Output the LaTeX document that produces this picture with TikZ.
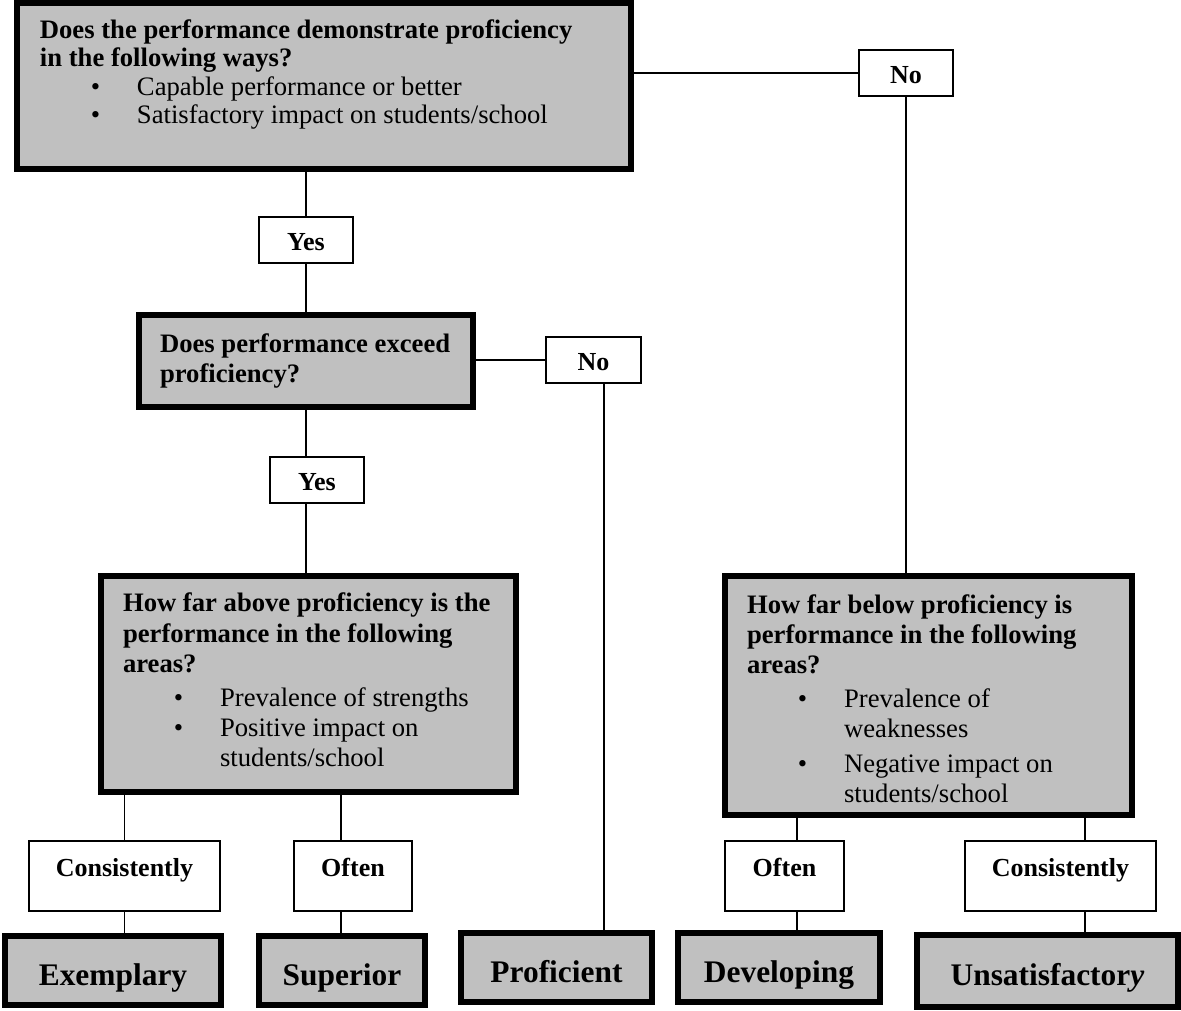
\documentclass[tikz,border=0pt]{standalone}
\usepackage{fontspec}
\setmainfont{Liberation Serif}
\definecolor{boxgray}{HTML}{C0C0C0}
% bullet line inside a question box
\newcommand{\bitem}[2][0pt]{\par\vspace{#1}\hangindent=44.8pt\hangafter=1\noindent
  \makebox[44.8pt][l]{\hspace{23.5pt}\mdseries\textbullet}{\mdseries #2}}

\begin{document}
\begin{tikzpicture}[x=0.4615pt, y=-0.4615pt,
    every node/.style={font=\fontsize{12}{13.8}\selectfont\bfseries},
    qbox/.style={draw, line width=2.77pt, fill=boxgray, inner ysep=0pt,
      font=\fontsize{12.3}{13.9}\selectfont\bfseries},
    tag/.style={draw, line width=0.92pt, fill=white, inner sep=0pt,
      minimum width=43.4pt, minimum height=21.2pt, text height=10pt, text depth=0pt},
    freq/.style={tag, minimum height=32.3pt, text height=6pt, text depth=6pt},
    result/.style={draw, line width=2.77pt, fill=boxgray, inner sep=0pt,
      minimum height=31.8pt, text height=13.4pt, text depth=0pt,
      font=\fontsize{14.5}{16}\selectfont\bfseries},
    link/.style={line width=0.92pt}]
  \useasboundingbox (0,0) rectangle (1181,1010);

  % questions
  \node[qbox, inner xsep=10.6pt] (qA) at (324,86)
    {\parbox[c][76.6pt][t]{262.2pt}{\baselineskip=13.2pt
      \rule{0pt}{16.2pt}Does the performance demonstrate proficiency\\
      in the following ways?
      \bitem{Capable performance or better}
      \bitem{Satisfactory impact on students/school}}};
  \node[qbox, inner xsep=9.7pt] (qB) at (306,361)
    {\parbox[c][42.5pt][t]{134.7pt}{\rule{0pt}{17.1pt}\mbox{Does performance exceed}\\ proficiency?}};
  \node[qbox, inner xsep=10.15pt] (qC) at (308.5,684)
    {\parbox[c][99.7pt][t]{171.2pt}{\rule{0pt}{16.6pt}\mbox{How far above proficiency is the}\\
      performance in the following\\ areas?
      \bitem[2pt]{Prevalence of strengths}
      \bitem{Positive impact on\newline students/school}}};
  \node[qbox, inner xsep=10.15pt] (qD) at (928.5,695.5)
    {\parbox[c][110.3pt][t]{167.5pt}{\rule{0pt}{17.1pt}How far below proficiency is\\
      performance in the following\\ areas?
      \bitem[2pt]{Prevalence of\newline weaknesses}
      \bitem[2pt]{Negative impact on\newline students/school}}};

  % answers
  \node[tag] (no1) at (906,73) {No};
  \node[tag] (yes1) at (306,240) {Yes};
  \node[tag, minimum width=43.8pt] (no2) at (593.5,360) {No};
  \node[tag] (yes2) at (317,480) {Yes};
  \node[freq, minimum width=88.1pt] (cons1) at (124.5,876) {Consistently};
  \node[freq, minimum width=54.5pt] (often1) at (353,876) {Often};
  \node[freq, minimum width=54.9pt] (often2) at (784.5,876) {Often};
  \node[freq, minimum width=88.1pt] (cons2) at (1060.5,876) {Consistently};

  % ratings
  \node[result, minimum width=99.7pt] (exem) at (113,970.5) {Exemplary};
  \node[result, minimum width=76.6pt] (sup) at (342,970.5) {Superior};
  \node[result, minimum width=88.1pt] (prof) at (556.5,967.5) {Proficient};
  \node[result, minimum width=93.2pt] (dev) at (779,967.5) {Developing};
  \node[result, minimum width=120.5pt, minimum height=32.8pt] (unsat) at (1047.5,971)
    {Unsatisfactor\textit{y}};

  \coordinate (supdrop) at (341,0);
  \coordinate (profdrop) at (604,0);
  \coordinate (devdrop) at (797,0);
  \coordinate (unsdrop) at (1085,0);

  \draw[link] (qA.east |- no1.west) -- (no1.west);
  \draw[link] (no1.south) -- (no1.south |- qD.north);
  \draw[link] (qA.south -| yes1.north) -- (yes1.north);
  \draw[link] (yes1.south) -- (yes1.south |- qB.north);
  \draw[link] (qB.east |- no2.west) -- (no2.west);
  \draw[link] (no2.south -| profdrop) -- (prof.north -| profdrop);
  \draw[link] (qB.south) -- (qB.south |- yes2.north);
  \draw[link] (qB.south |- yes2.south) -- (qB.south |- qC.north);
  \draw[link] (qC.south -| cons1.north) -- (cons1.north);
  \draw[link] (cons1.south) -- (cons1.south |- exem.north);
  \draw[link] (qC.south -| supdrop) -- (often1.north -| supdrop);
  \draw[link] (often1.south -| supdrop) -- (sup.north -| supdrop);
  \draw[link] (qD.south -| devdrop) -- (often2.north -| devdrop);
  \draw[link] (often2.south -| devdrop) -- (dev.north -| devdrop);
  \draw[link] (qD.south -| unsdrop) -- (cons2.north -| unsdrop);
  \draw[link] (cons2.south -| unsdrop) -- (unsat.north -| unsdrop);
\end{tikzpicture}
\end{document}
